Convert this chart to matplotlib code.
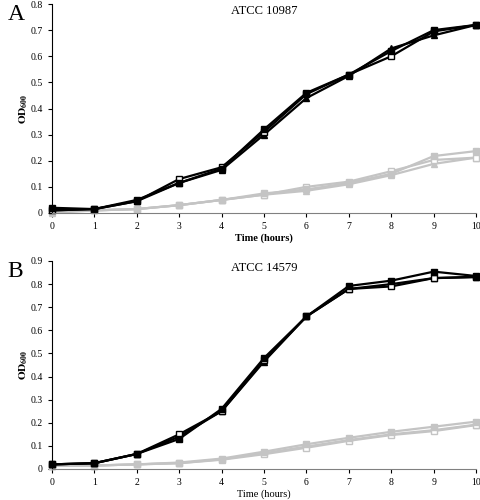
import matplotlib.pyplot as plt

plt.rcParams['font.family'] = ['Liberation Serif', 'DejaVu Serif']
plt.rcParams['mathtext.fontset'] = 'stix'

hours = [0, 1, 2, 3, 4, 5, 6, 7, 8, 9, 10]

# Panel A: ATCC 10987
a_black_filled = [0.020, 0.015, 0.050, 0.115, 0.170, 0.320, 0.460, 0.530, 0.620, 0.700, 0.720]
a_black_open = [0.010, 0.015, 0.045, 0.130, 0.175, 0.310, 0.455, 0.530, 0.600, 0.695, 0.720]
a_black_tri = [0.010, 0.015, 0.045, 0.115, 0.165, 0.300, 0.440, 0.525, 0.630, 0.680, 0.720]
a_gray_filled = [0.010, 0.010, 0.015, 0.030, 0.050, 0.075, 0.090, 0.115, 0.150, 0.218, 0.237]
a_gray_open = [0.005, 0.010, 0.015, 0.030, 0.050, 0.070, 0.100, 0.120, 0.160, 0.203, 0.212]
a_gray_tri = [0.000, 0.010, 0.015, 0.030, 0.050, 0.070, 0.085, 0.110, 0.145, 0.188, 0.212]

# Panel B: ATCC 14579
b_black_filled = [0.020, 0.025, 0.065, 0.130, 0.260, 0.480, 0.660, 0.792, 0.815, 0.854, 0.835]
b_black_open = [0.020, 0.025, 0.065, 0.150, 0.250, 0.470, 0.660, 0.779, 0.790, 0.826, 0.832]
b_black_tri = [0.020, 0.025, 0.065, 0.140, 0.250, 0.465, 0.660, 0.779, 0.800, 0.826, 0.830]
b_gray_filled = [0.015, 0.015, 0.020, 0.028, 0.045, 0.075, 0.107, 0.135, 0.161, 0.183, 0.205]
b_gray_open = [0.015, 0.015, 0.020, 0.025, 0.040, 0.064, 0.092, 0.122, 0.147, 0.164, 0.190]
b_gray_tri = [0.015, 0.015, 0.020, 0.025, 0.042, 0.068, 0.097, 0.125, 0.150, 0.168, 0.192]

GRAY = '#c4c4c4'


def draw_panel(ax, series, ymax, title, letter, xlabel_bold):
    for vals, color, marker, face in series:
        ax.plot(hours, vals, color=color, lw=1.6, marker=marker, ms=4.5,
                mfc=face, mec=color, mew=1.0, clip_on=False)
    ax.set_xlim(0, 10)
    ax.set_ylim(0, ymax)
    ax.set_xticks(hours)
    n = int(round(ymax * 10))
    ax.set_yticks([round(0.1 * i, 1) for i in range(n + 1)])
    ax.set_yticklabels(['0'] + ['%.1f' % (0.1 * i) for i in range(1, n + 1)])
    ax.spines['top'].set_visible(False)
    ax.spines['right'].set_visible(False)
    ax.spines['bottom'].set_color('#808080')
    ax.tick_params(labelsize=7, length=3, width=0.8, direction='out')
    ax.set_xlabel('Time (hours)', fontsize=7.5,
                  fontweight='bold' if xlabel_bold else 'normal', labelpad=2)
    ax.set_ylabel(r'$\mathbf{OD_{600}}$', fontsize=8, labelpad=0)
    ax.text(0.5, 0.965, title, transform=ax.transAxes, fontsize=9, ha='center', va='center')
    ax.text(-0.105, 1.0, letter, transform=ax.transAxes, fontsize=17, ha='left', va='top')


fig = plt.figure(figsize=(4.8, 5.0), dpi=100)
ax1 = fig.add_axes([0.108, 0.574, 0.884, 0.418])
ax2 = fig.add_axes([0.108, 0.062, 0.884, 0.416])

draw_panel(ax1, [
    (a_gray_tri, GRAY, '^', GRAY),
    (a_gray_open, GRAY, 's', 'white'),
    (a_gray_filled, GRAY, 's', GRAY),
    (a_black_tri, 'black', '^', 'black'),
    (a_black_open, 'black', 's', 'white'),
    (a_black_filled, 'black', 's', 'black'),
], 0.8, 'ATCC 10987', 'A', True)

draw_panel(ax2, [
    (b_gray_tri, GRAY, '^', GRAY),
    (b_gray_open, GRAY, 's', 'white'),
    (b_gray_filled, GRAY, 's', GRAY),
    (b_black_tri, 'black', '^', 'black'),
    (b_black_open, 'black', 's', 'white'),
    (b_black_filled, 'black', 's', 'black'),
], 0.9, 'ATCC 14579', 'B', False)

fig.savefig('out.png', dpi=100)
